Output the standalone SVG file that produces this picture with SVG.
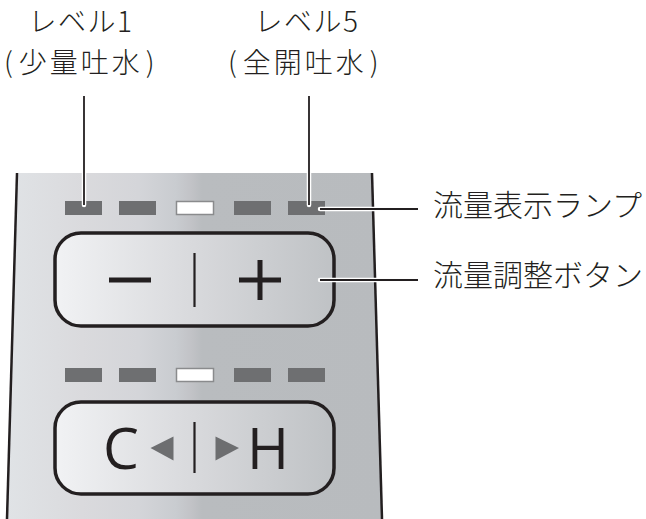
<svg xmlns="http://www.w3.org/2000/svg" width="646" height="519" viewBox="0 0 646 519">
<defs>
<linearGradient id="panelG" gradientUnits="userSpaceOnUse" x1="7" y1="0" x2="382" y2="0">
<stop offset="0" stop-color="#e0e3e6"/>
<stop offset="0.2" stop-color="#dadadd"/>
<stop offset="0.35" stop-color="#d4d5d9"/>
<stop offset="0.45" stop-color="#c9ccd0"/>
<stop offset="0.49" stop-color="#c2c3c7"/>
<stop offset="0.52" stop-color="#b9bcbf"/>
<stop offset="1" stop-color="#b8bbbe"/>
</linearGradient>
<linearGradient id="btnG" gradientUnits="objectBoundingBox" x1="0" y1="0" x2="1" y2="0">
<stop offset="0" stop-color="#f1f2f4"/>
<stop offset="0.5" stop-color="#d8d9dc"/>
<stop offset="1" stop-color="#bfc2c5"/>
</linearGradient>
</defs>
<style>
.edge{stroke:#231f20;stroke-width:2.5;fill:none}
.btn{fill:url(#btnG);stroke:#231f20;stroke-width:3.5}
.lamp{fill:#6e6f71}
.lampOn{fill:#ffffff;stroke:#8a8b8d;stroke-width:1.5}
.sym{fill:#231f20}
.tri{fill:#6d6e70}
.div{stroke:#231f20;stroke-width:2.2}
.halo{stroke:#ffffff;stroke-width:4.5;stroke-linecap:round;fill:none}
.lead{stroke:#231f20;stroke-width:1.8;fill:none}
.lbl{font-family:"Noto Sans CJK JP","Noto Sans",sans-serif;font-size:30px;font-weight:300;fill:#231f20}
.top{font-size:28px}
.big{font-family:"Open Sans","Liberation Sans",sans-serif;font-size:57px;fill:#231f20}
</style>
<g id="panel">
<path d="M17,173 L372,173 L382,519 L7,519 Z" fill="url(#panelG)"/>
<path class="edge" d="M17,173 L7,519"/>
<path class="edge" d="M372,173 L382,519"/>
</g>
<g id="lamps-flow">
<rect class="lamp" x="65" y="201" width="37" height="14"/>
<rect class="lamp" x="119" y="201" width="37" height="14"/>
<rect class="lampOn" x="176.5" y="201.5" width="37" height="13"/>
<rect class="lamp" x="234" y="201" width="37" height="14"/>
<rect class="lamp" x="288" y="201" width="37" height="14"/>
</g>
<g id="button-flow">
<rect class="btn" x="55" y="233" width="279" height="93" rx="26"/>
<rect class="sym" x="109" y="277.5" width="42" height="5"/>
<line class="div" x1="194.5" y1="253" x2="194.5" y2="307"/>
<rect class="sym" x="239" y="277.5" width="42" height="5"/>
<rect class="sym" x="257.5" y="260" width="5" height="40"/>
</g>
<g id="lamps-temp">
<rect class="lamp" x="65" y="368" width="37" height="14"/>
<rect class="lamp" x="119" y="368" width="37" height="14"/>
<rect class="lampOn" x="176.5" y="368.5" width="37" height="13"/>
<rect class="lamp" x="234" y="368" width="37" height="14"/>
<rect class="lamp" x="288" y="368" width="37" height="14"/>
</g>
<g id="button-temp">
<rect class="btn" x="55" y="402" width="279" height="92" rx="26"/>
<text class="big" x="103" y="469">C</text>
<polygon class="tri" points="150.5,448 173.5,436.5 173.5,460.5"/>
<line class="div" x1="194.5" y1="422" x2="194.5" y2="473"/>
<polygon class="tri" points="215.5,436.5 215.5,460.5 239,448"/>
<text class="big" x="247" y="469">H</text>
</g>
<g id="connectors">
<path class="halo" d="M84,96 L84,205"/>
<path class="halo" d="M309,96 L309,205"/>
<path class="halo" d="M320,209 L418,209"/>
<path class="halo" d="M320,280 L418,280"/>
<path class="lead" d="M84,96 L84,205"/>
<path class="lead" d="M309,96 L309,205"/>
<path class="lead" d="M320,209 L418,209"/>
<path class="lead" d="M320,280 L418,280"/>
</g>
<g id="label-level1">
<text class="lbl top" x="81" y="32" text-anchor="middle" letter-spacing="1.5">レベル1</text>
<text class="lbl top" x="4" y="73">(<tspan dx="6" letter-spacing="3">少量吐水</tspan><tspan dx="3">)</tspan></text>
</g>
<g id="label-level5">
<text class="lbl top" x="307" y="32" text-anchor="middle" letter-spacing="1.5">レベル5</text>
<text class="lbl top" x="228" y="73">(<tspan dx="6" letter-spacing="3">全開吐水</tspan><tspan dx="3">)</tspan></text>
</g>
<g id="label-lamp">
<text class="lbl" x="433" y="216">流量表示ランプ</text>
</g>
<g id="label-button">
<text class="lbl" x="433" y="286">流量調整ボタン</text>
</g>
</svg>
